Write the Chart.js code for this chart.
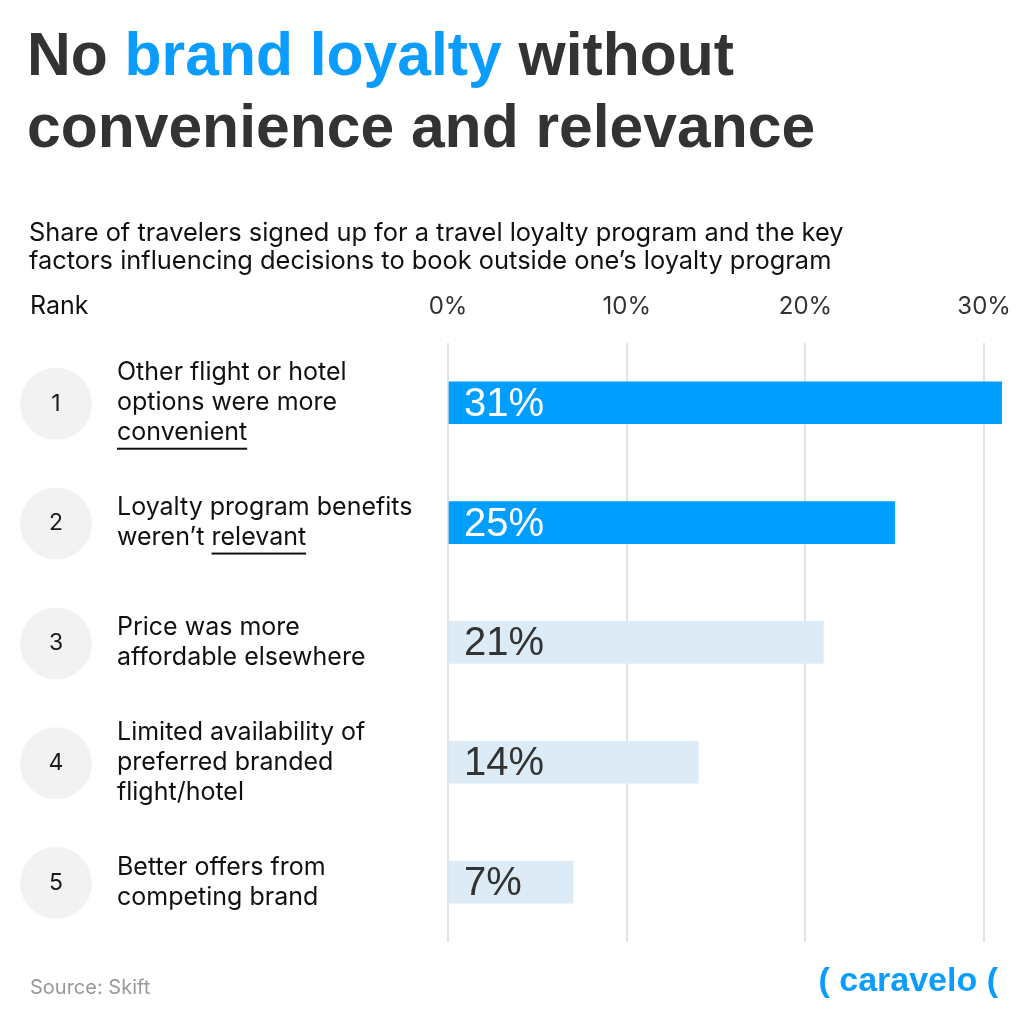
<!DOCTYPE html>
<html>
<head>
<meta charset="utf-8">
<script src="https://cdn.jsdelivr.net/npm/chart.js@4/dist/chart.umd.min.js"></script>
<style>
  html, body { margin: 0; padding: 0; background: #fff; }
  #wrap { position: relative; width: 1024px; height: 1024px; overflow: hidden; }
  #c { position: absolute; left: 0; top: 0; }
  .title { position: absolute; left: 27px; top: 18px; font-family: "Liberation Sans", Arial, sans-serif; font-weight: bold; font-size: 60.6px; line-height: 72px; color: #333333; margin: 0; }
  .title .hl { color: #0A9DFF; }
  .subtitle { position: absolute; left: 29px; top: 218px; font-family: Inter, sans-serif; font-size: 25.4px; line-height: 28px; color: #111; }
  .rank { position: absolute; left: 30px; top: 290px; font-family: Inter, sans-serif; font-size: 25px; color: #111; }
  .source { position: absolute; left: 30px; top: 975px; font-family: Inter, sans-serif; font-size: 20px; color: #999; }
  .logo { position: absolute; right: 26px; top: 960px; font-family: "Liberation Sans", Arial, sans-serif; font-weight: bold; font-size: 34px; color: #0A9DFF; }
</style>
</head>
<body>
<div id="wrap">
  <canvas id="c" width="1024" height="1024"></canvas>
  <div class="title">No <span class="hl">brand loyalty</span> without<br>convenience and relevance</div>
  <div class="subtitle">Share of travelers signed up for a travel loyalty program and the key<br>factors influencing decisions to book outside one’s loyalty program</div>
  <div class="rank">Rank</div>
  <div class="source">Source: Skift</div>
  <div class="logo">( caravelo (</div>
</div>
<script>
const ranks = ["1", "2", "3", "4", "5"];
const categories = [
  ["Other flight or hotel", "options were more", "convenient"],
  ["Loyalty program benefits", "weren’t relevant"],
  ["Price was more", "affordable elsewhere"],
  ["Limited availability of", "preferred branded", "flight/hotel"],
  ["Better offers from", "competing brand"]
];
const underlined = ["convenient", "relevant", null, null, null];
const values = [31, 25, 21, 14, 7];
const tickValues = [0, 10, 20, 30];

const BLUE = "#009EFF";
const LIGHT = "#DCEBF6";

const sidePlugin = {
  id: "side",
  afterDatasetsDraw(chart) {
    const ctx = chart.ctx;
    const y = chart.scales.y;
    const meta = chart.getDatasetMeta(0);
    ctx.save();
    categories.forEach((lines, i) => {
      const cy = y.getPixelForValue(i);
      // rank circle
      ctx.fillStyle = "#F2F2F2";
      ctx.beginPath();
      ctx.arc(56, cy + 1, 36, 0, Math.PI * 2);
      ctx.fill();
      ctx.fillStyle = "#1a1a1a";
      ctx.font = "23px Inter";
      ctx.textAlign = "center";
      ctx.textBaseline = "middle";
      ctx.fillText(ranks[i], 56, cy + 1);
      // label lines
      ctx.textAlign = "left";
      ctx.font = "25px Inter";
      const lh = 30;
      const start = cy - (lines.length - 1) * lh / 2;
      lines.forEach((ln, j) => {
        const ly = start + j * lh;
        ctx.fillStyle = "#111";
        ctx.textBaseline = "middle";
        ctx.fillText(ln, 117, ly);
        const u = underlined[i];
        if (u && ln.indexOf(u) >= 0) {
          const pre = ln.substring(0, ln.indexOf(u));
          const x0 = 117 + ctx.measureText(pre).width;
          const w = ctx.measureText(u).width;
          ctx.fillRect(x0, ly + 15, w, 2);
        }
      });
      // value label
      const bar = meta.data[i];
      ctx.font = "40px 'Liberation Sans'";
      ctx.fillStyle = i < 2 ? "#FFFFFF" : "#333333";
      ctx.textBaseline = "middle";
      ctx.fillText(values[i] + "%", bar.base + 15, cy + 2);
    });
    ctx.restore();
  }
};

new Chart(document.getElementById("c"), {
  type: "bar",
  data: {
    labels: ranks,
    datasets: [{
      data: values,
      backgroundColor: values.map((v, i) => i < 2 ? BLUE : LIGHT),
      borderWidth: 0,
      barThickness: 42
    }]
  },
  options: {
    indexAxis: "y",
    responsive: false,
    animation: false,
    devicePixelRatio: 1,
    layout: { padding: { left: 448, right: 22, top: 270, bottom: 82 } },
    plugins: { legend: { display: false }, tooltip: { enabled: false } },
    scales: {
      x: {
        position: "top",
        min: 0,
        max: 31,
        afterBuildTicks(axis) { axis.ticks = tickValues.map(v => ({ value: v })); },
        afterFit(axis) { axis.paddingLeft = 0; axis.paddingRight = 0; },
        ticks: {
          callback: v => v + "%",
          font: { family: "Inter", size: 24 },
          color: "#333",
          padding: 22,
          maxRotation: 0
        },
        grid: { color: "#E3E3E3", lineWidth: 2, drawTicks: false },
        border: { display: false }
      },
      y: {
        display: false
      }
    }
  },
  plugins: [sidePlugin]
});
</script>
</body>
</html>
